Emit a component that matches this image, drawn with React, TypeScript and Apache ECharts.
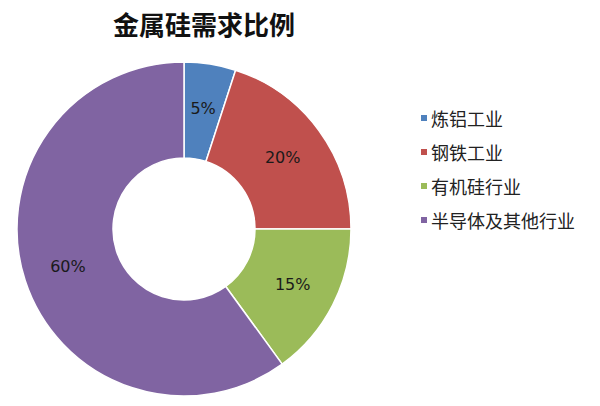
import { useEffect, useRef } from "react";
import * as echarts from "echarts";

const categories = ["炼铝工业", "钢铁工业", "有机硅行业", "半导体及其他行业"];
const shares = [5, 20, 15, 60];
const colors = ["#4F81BD", "#C0504D", "#9BBB59", "#8064A2"];

export default function App() {
  const chartRef = useRef<HTMLDivElement | null>(null);

  useEffect(() => {
    if (!chartRef.current) {
      return;
    }
    document.body.style.margin = "0";

    const chart = echarts.init(chartRef.current, null, { renderer: "svg" });
    chart.setOption({
      animation: false,
      backgroundColor: "#ffffff",
      color: colors,
      title: {
        text: "金属硅需求比例",
        left: 199,
        top: 5,
        textAlign: "center",
        textStyle: {
          fontFamily: "Noto Sans CJK SC",
          fontSize: 26,
          fontWeight: 700,
          color: "#111111",
        },
      },
      legend: {
        orient: "vertical",
        left: 414,
        top: 104,
        icon: "rect",
        itemWidth: 8,
        itemHeight: 8,
        itemGap: 16,
        textStyle: {
          fontFamily: "Noto Sans CJK SC",
          fontSize: 18,
          color: "#222222",
          padding: [0, 0, 0, -2],
        },
        data: categories,
      },
      series: [
        {
          type: "pie",
          center: [184, 229],
          radius: [71, 167],
          startAngle: 90,
          clockwise: true,
          itemStyle: {
            borderColor: "#ffffff",
            borderWidth: 1.5,
          },
          label: {
            position: "inside",
            formatter: "{c}%",
            fontFamily: "DejaVu Sans",
            fontSize: 16,
            color: "#1a1a1a",
          },
          labelLine: { show: false },
          data: categories.map((name, i) => ({ name, value: shares[i] })),
        },
      ],
    });

    return () => {
      chart.dispose();
    };
  }, []);

  return <div ref={chartRef} style={{ width: 600, height: 406 }} />;
}
